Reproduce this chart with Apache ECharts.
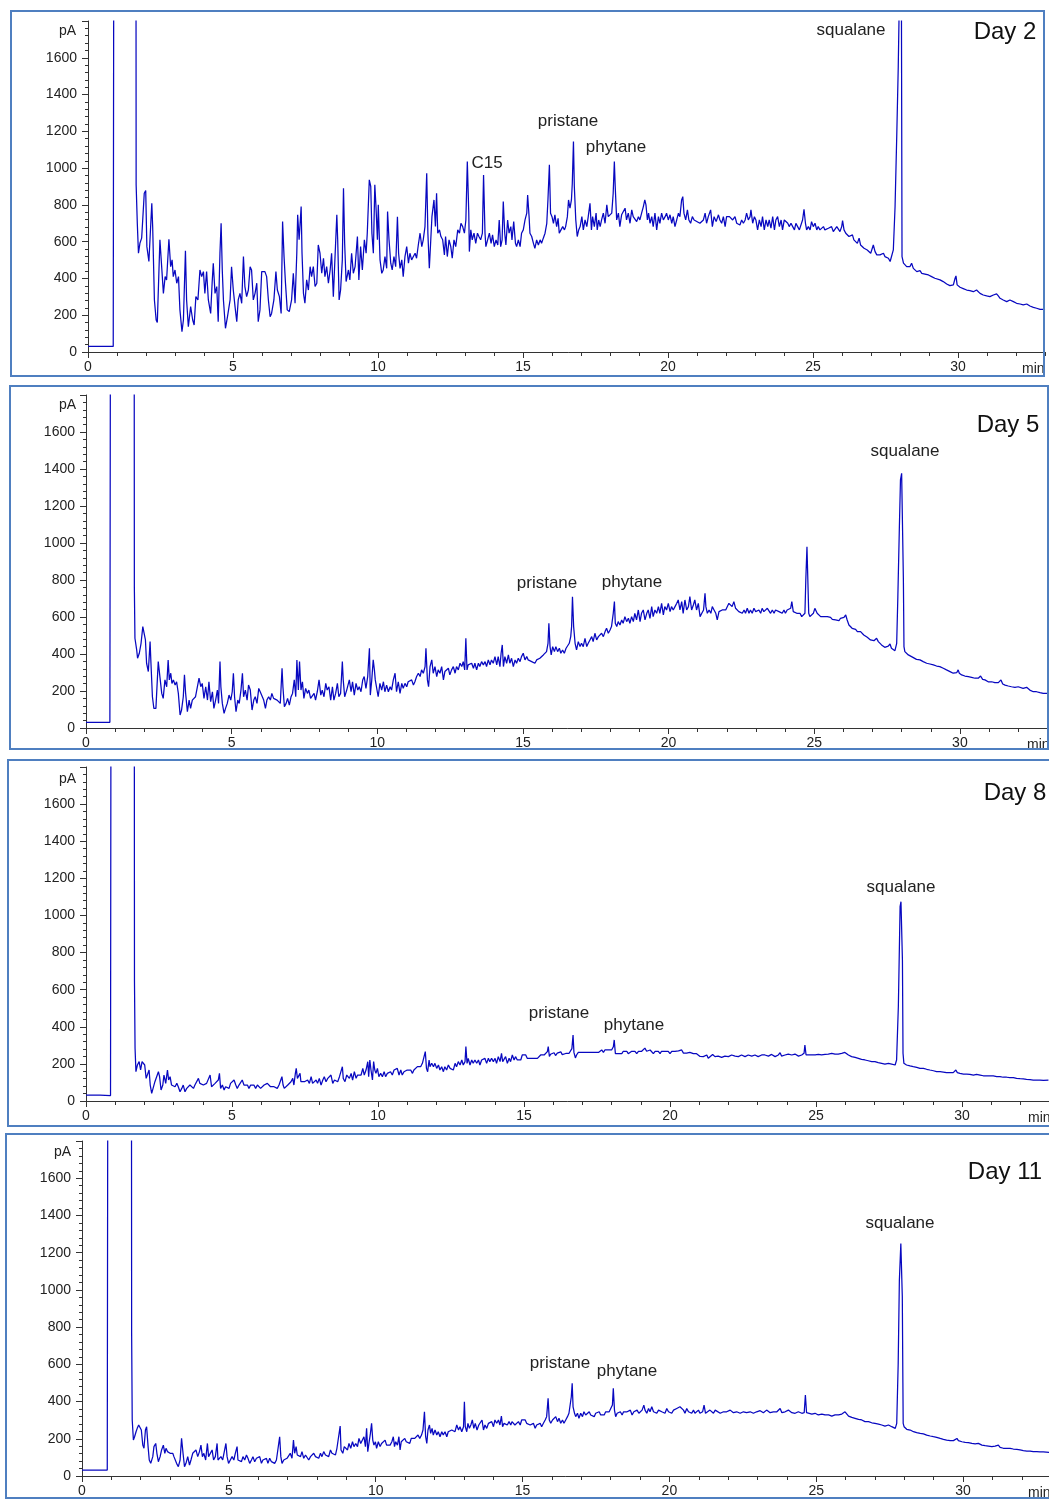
<!DOCTYPE html>
<html><head><meta charset="utf-8">
<script src="https://cdn.jsdelivr.net/npm/echarts@6/dist/echarts.min.js"></script>
<style>html,body{margin:0;padding:0;background:#fff}#c{width:1049px;height:1499px}</style>
</head><body><div id="c"></div>
<script>
// ---------- data: [retention time (min), signal (pA)] ----------
const day2 = [[0,30],[0.87,30],[0.92,6000],[1.64,6000],[1.66,909],[1.70,700],[1.74,537],[1.79,591],[1.85,619],[1.94,863],[1.99,878],[2.03,573],[2.10,492],[2.16,483],[2.20,809],[2.23,682],[2.29,283],[2.35,174],[2.39,160],[2.48,610],[2.54,600],[2.60,319],[2.66,410],[2.71,392],[2.79,613],[2.85,464],[2.90,501],[2.94,410],[3.00,446],[3.06,374],[3.12,410],[3.17,229],[3.24,111],[3.29,174],[3.36,551],[3.40,283],[3.46,138],[3.54,247],[3.61,174],[3.66,147],[3.72,301],[3.79,283],[3.86,446],[3.92,410],[3.98,437],[4.03,319],[4.09,437],[4.15,283],[4.23,210],[4.28,374],[4.32,483],[4.38,319],[4.44,356],[4.49,165],[4.55,537],[4.59,700],[4.63,446],[4.67,283],[4.74,129],[4.81,192],[4.90,283],[4.95,464],[5.01,337],[5.07,247],[5.13,165],[5.18,283],[5.24,319],[5.30,265],[5.36,519],[5.41,356],[5.47,301],[5.53,337],[5.59,464],[5.64,446],[5.70,283],[5.76,319],[5.82,374],[5.87,165],[5.93,229],[5.99,437],[6.05,428],[6.10,437],[6.16,410],[6.22,283],[6.28,192],[6.33,210],[6.41,283],[6.48,437],[6.53,337],[6.60,301],[6.66,210],[6.71,709],[6.76,519],[6.81,374],[6.87,229],[6.94,220],[7.02,283],[7.08,428],[7.14,265],[7.20,537],[7.23,746],[7.28,610],[7.35,791],[7.38,537],[7.43,319],[7.48,265],[7.54,392],[7.60,337],[7.66,464],[7.71,410],[7.77,464],[7.83,356],[7.89,374],[7.94,582],[8.00,537],[8.06,428],[8.12,510],[8.17,410],[8.23,464],[8.29,374],[8.35,446],[8.40,537],[8.46,301],[8.52,292],[8.58,746],[8.61,610],[8.66,283],[8.71,337],[8.77,501],[8.81,891],[8.85,591],[8.90,383],[8.98,446],
[9.03,392],[9.09,537],[9.15,428],[9.21,464],[9.29,628],[9.34,392],[9.40,573],[9.46,446],[9.53,610],[9.59,537],[9.63,646],[9.70,936],[9.75,900],[9.79,646],[9.84,537],[9.89,909],[9.93,791],[9.98,610],[10.01,800],[10.07,501],[10.13,428],[10.18,446],[10.24,519],[10.30,455],[10.33,764],[10.38,610],[10.44,483],[10.49,446],[10.55,519],[10.61,464],[10.67,736],[10.71,537],[10.76,455],[10.82,501],[10.87,410],[10.93,519],[10.99,573],[11.05,483],[11.10,537],[11.16,501],[11.22,519],[11.28,537],[11.33,510],[11.39,582],[11.45,646],[11.51,573],[11.56,610],[11.62,682],[11.68,972],[11.72,646],[11.77,455],[11.82,610],[11.86,736],[11.93,827],[11.98,682],[12.02,863],[12.06,646],[12.12,664],[12.17,628],[12.23,610],[12.29,528],[12.33,628],[12.39,519],[12.45,610],[12.51,573],[12.56,510],[12.62,610],[12.68,573],[12.75,664],[12.81,646],[12.86,700],[12.92,682],[12.98,646],[13.03,718],[13.08,1036],[13.13,755],[13.15,546],[13.20,664],[13.25,610],[13.31,646],[13.37,591],[13.43,646],[13.48,628],[13.54,610],[13.60,646],[13.64,963],[13.69,646],[13.72,573],[13.78,610],[13.84,646],[13.90,591],[13.95,637],[14.01,573],[14.07,610],[14.13,582],[14.18,718],[14.23,573],[14.28,610],[14.32,818],[14.37,646],[14.41,582],[14.47,718],[14.52,646],[14.58,682],[14.62,610],[14.68,709],[14.74,591],[14.78,573],[14.84,610],[14.90,573],[14.95,646],[15.01,664],[15.07,718],[15.13,755],[15.16,854],[15.21,736],[15.24,646],[15.30,628],[15.36,591],[15.41,564],[15.47,610],[15.53,582],[15.59,610],[15.64,591],[15.70,619],[15.76,646],[15.82,700],[15.86,827],[15.91,1018],[15.95,755],[16.00,736],[16.05,700],[16.10,746],[16.16,682],[16.21,727],[16.25,646],[16.31,664],[16.37,682],[16.43,664],[16.47,682],[16.53,736],[16.57,827],[16.62,782],[16.67,827],[16.70,918],[16.74,1145],[16.77,900],[16.82,718],[16.87,628],[16.92,664],[16.97,682],[17.03,736],[17.08,664],[17.14,718],[17.20,682],[17.25,736],[17.31,809],[17.36,664],[17.40,736],[17.46,682],[17.52,755],[17.56,664],[17.61,718],[17.66,682],[17.71,718],[17.77,755],[17.83,700],[17.89,800],[17.94,736],[18.00,727],[18.06,755],[18.11,863],[18.15,1036],[18.18,900],[18.23,718],[18.29,755],[18.34,682],[18.40,746],[18.46,736],[18.52,782],[18.57,718],[18.63,755],[18.69,700],[18.75,773],[18.80,736],[18.86,746],[18.92,709],[18.98,736],[19.03,718],[19.09,755],[19.15,791],[19.20,827],[19.24,800],[19.29,718],[19.33,755],[19.38,700],[19.44,736],[19.49,682],[19.55,755],[19.61,664],[19.67,736],[19.72,700],[19.78,755],[19.84,718],[19.90,736],[19.95,755],[20.01,718],[20.07,746],[20.13,700],[20.18,736],[20.24,682],[20.30,718],[20.36,755],[20.41,736],[20.47,827],[20.51,845],[20.55,755],[20.61,718],[20.67,773],[20.72,718],[20.78,700],[20.84,736],[20.90,718],[20.96,709],
[21.1,700],[21.22,718],[21.28,755],[21.33,700],[21.39,736],[21.47,773],[21.53,682],[21.59,736],[21.66,709],[21.74,746],[21.79,718],[21.85,700],[21.91,736],[21.97,682],[22.02,736],[22.12,736],[22.17,727],[22.23,718],[22.31,736],[22.37,700],[22.43,709],[22.48,691],[22.54,718],[22.6,700],[22.66,718],[22.71,755],[22.77,718],[22.83,736],[22.86,773],[22.92,700],[22.98,736],[23.03,718],[23.09,664],[23.15,718],[23.21,682],[23.26,736],[23.32,664],[23.38,718],[23.44,682],[23.49,718],[23.55,673],[23.61,736],[23.67,664],[23.72,718],[23.78,736],[23.84,682],[23.9,718],[23.95,664],[24.01,718],[24.07,709],[24.13,700],[24.18,682],[24.24,700],[24.3,682],[24.36,664],[24.41,700],[24.47,682],[24.53,664],[24.59,673],[24.64,718],[24.69,776],[24.74,700],[24.78,664],[24.84,682],[24.9,664],[24.95,709],[25.01,682],[25.07,700],[25.13,664],[25.18,682],[25.24,664],[25.3,673],[25.36,682],[25.41,664],[25.47,655],[25.53,673],[25.59,664],[25.64,682],[25.7,655],[25.76,664],[25.82,682],[25.87,673],[25.93,655],[25.99,682],[26.02,715],[26.07,664],[26.13,646],[26.18,637],[26.24,628],[26.3,619],[26.36,637],[26.41,610],[26.47,600],[26.53,591],[26.59,619],[26.64,582],[26.7,573],[26.76,564],[26.82,564],[26.87,555],[26.93,546],[26.99,537],[27.05,546],[27.08,582],[27.14,546],[27.2,528],[27.25,537],[27.31,528],[27.37,519],[27.43,537],[27.48,519],[27.54,510],[27.6,510],[27.66,492],[27.71,483],[27.77,555],[27.83,791],[27.89,1190],[27.94,1553],[27.97,1850],[28.05,1850],[28.07,519],[28.12,483],[28.17,474],[28.23,464],[28.29,455],[28.34,464],[28.4,483],[28.46,455],[28.52,446],[28.58,437],[28.63,437],[28.69,442],[28.75,428],[28.8,432],[28.86,424],[28.92,428],[28.98,419],[29.03,414],[29.09,410],[29.15,406],[29.2,401],[29.26,396],[29.38,392],[29.49,383],[29.61,370],[29.67,365],[29.72,361],[29.78,365],[29.84,365],[29.9,401],[29.93,414],[29.97,365],[30.01,356],[30.07,352],[30.18,345],[30.3,337],[30.41,334],[30.53,328],[30.64,337],[30.7,328],[30.76,319],[30.87,310],[30.99,305],[31.1,301],[31.22,310],[31.33,316],[31.39,305],[31.45,292],[31.56,283],[31.68,274],[31.79,283],[31.85,287],[31.91,274],[32.02,265],[32.14,261],[32.25,256],[32.37,261],[32.48,250],[32.6,243],[32.71,238],[32.83,232],[32.94,232],[33,230]];

const day5 = [[0,31],[0.82,31],[0.87,6000],[1.64,6000],[1.66,760],[1.68,485],[1.74,422],[1.77,377],[1.83,404],[1.89,458],[1.95,548],[1.99,557],[2.04,476],[2.08,350],[2.14,305],[2.2,467],[2.23,350],[2.28,169],[2.33,106],[2.4,106],[2.48,359],[2.54,350],[2.6,187],[2.65,160],[2.71,260],[2.77,223],[2.82,368],[2.86,260],[2.91,296],[2.95,241],[3.0,260],[3.06,232],[3.11,250],[3.17,187],[3.23,70],[3.28,97],[3.34,169],[3.38,287],[3.42,187],[3.48,88],[3.54,151],[3.59,106],[3.65,151],[3.71,142],[3.76,169],[3.82,169],[3.88,269],[3.94,223],[3.99,241],[4.05,160],[4.11,223],[4.17,151],[4.22,250],[4.28,142],[4.34,196],[4.39,106],[4.45,151],[4.51,205],[4.55,133],[4.6,359],[4.63,223],[4.68,133],[4.74,79],[4.79,106],[4.85,133],[4.91,178],[4.97,151],[5.02,196],[5.06,296],[5.1,169],[5.15,88],[5.21,151],[5.26,133],[5.32,205],[5.37,296],[5.41,169],[5.47,205],[5.53,151],[5.58,232],[5.64,205],[5.7,97],[5.76,151],[5.81,169],[5.87,133],[5.93,214],[5.98,196],[6.04,187],[6.1,151],[6.16,106],[6.21,151],[6.27,169],[6.33,151],[6.38,187],[6.44,160],[6.5,151],[6.56,151],[6.61,160],[6.67,133],[6.73,323],[6.76,223],[6.81,115],[6.87,133],[6.92,160],[6.98,124],[7.04,169],[7.09,187],[7.15,260],[7.2,169],[7.24,368],[7.29,205],[7.33,359],[7.38,205],[7.43,250],[7.48,160],[7.54,214],[7.6,187],[7.65,205],[7.71,160],[7.77,169],[7.83,187],[7.88,151],[7.94,196],[8.0,260],[8.06,178],[8.11,205],[8.17,169],[8.23,241],[8.28,205],[8.34,223],[8.4,151],[8.46,223],[8.51,151],[8.57,187],[8.63,241],[8.68,169],[8.74,187],[8.8,359],[8.83,260],[8.88,169],[8.95,205],[9.0,214],
[9.04,260],[9.1,196],[9.15,250],[9.21,178],[9.27,241],[9.33,205],[9.38,223],[9.44,196],[9.5,260],[9.55,278],[9.61,214],[9.67,278],[9.73,431],[9.76,178],[9.81,260],[9.86,368],[9.9,314],[9.93,260],[9.98,250],[10.03,169],[10.09,241],[10.15,205],[10.21,250],[10.26,196],[10.32,232],[10.38,196],[10.44,223],[10.49,205],[10.55,260],[10.61,296],[10.66,196],[10.72,250],[10.78,187],[10.84,241],[10.89,214],[10.95,241],[11.01,223],[11.06,250],[11.12,241],[11.18,260],[11.24,232],[11.29,250],[11.35,278],[11.41,296],[11.47,278],[11.52,314],[11.58,296],[11.64,332],[11.67,431],[11.72,260],[11.76,223],[11.81,332],[11.87,368],[11.92,296],[11.98,332],[12.04,278],[12.09,314],[12.15,296],[12.21,332],[12.27,260],[12.32,305],[12.38,296],[12.44,323],[12.49,287],[12.55,314],[12.61,332],[12.67,296],[12.72,332],[12.78,314],[12.84,350],[12.9,332],[12.95,359],[13.0,314],[13.04,485],[13.08,314],[13.12,341],[13.18,332],[13.24,350],[13.3,323],[13.35,350],[13.41,314],[13.47,350],[13.52,332],[13.58,359],[13.64,341],[13.7,359],[13.75,332],[13.81,368],[13.87,341],[13.92,368],[13.98,350],[14.04,386],[14.1,341],[14.15,386],[14.21,332],[14.25,404],[14.29,449],[14.33,332],[14.38,386],[14.44,350],[14.5,395],[14.55,350],[14.61,377],[14.67,332],[14.73,368],[14.78,350],[14.84,377],[14.9,359],[14.95,386],[15.01,404],[15.07,368],[15.13,386],[15.18,368],[15.24,377],[15.3,359],[15.36,368],[15.41,350],[15.47,368],[15.53,359],[15.58,377],[15.64,368],[15.7,395],[15.76,386],[15.81,413],[15.86,458],[15.89,566],[15.93,440],[15.97,395],[16.02,440],[16.08,413],[16.13,440],[16.19,413],[16.25,431],[16.3,404],[16.36,422],[16.42,404],[16.48,431],[16.53,440],[16.59,458],[16.64,494],[16.67,548],[16.7,710],[16.74,548],[16.79,458],[16.84,422],[16.9,467],[16.96,440],[17.01,458],[17.07,440],[17.13,485],[17.19,440],[17.24,458],[17.3,476],[17.36,494],[17.41,467],[17.47,512],[17.53,476],[17.59,494],[17.64,485],[17.7,512],[17.76,494],[17.82,521],[17.87,539],[17.93,512],[17.99,530],[18.04,548],[18.1,620],[18.14,683],[18.17,566],[18.22,548],[18.27,575],[18.33,557],[18.39,584],[18.44,566],[18.5,602],[18.56,575],[18.62,593],[18.67,566],[18.73,602],[18.79,575],[18.84,620],[18.9,584],[18.96,638],[19.02,575],[19.07,620],[19.13,638],[19.19,584],[19.25,620],[19.3,638],[19.36,593],[19.42,656],[19.47,602],[19.53,638],[19.59,620],[19.65,656],[19.7,620],[19.76,674],[19.82,611],[19.87,656],[19.93,638],[19.99,674],[20.05,629],[20.1,656],[20.16,638],[20.22,656],[20.28,674],[20.33,692],[20.39,638],[20.45,683],[20.5,620],[20.56,692],[20.62,638],[20.68,656],[20.73,710],[20.79,638],[20.85,665],[20.9,692],[20.96,638],[21.02,674],
[21.08,602],[21.14,620],[21.2,638],[21.25,728],[21.28,656],[21.33,620],[21.39,638],[21.45,620],[21.5,656],[21.56,638],[21.62,620],[21.67,584],[21.73,629],[21.79,620],[21.84,638],[21.9,629],[21.96,638],[22.01,647],[22.07,674],[22.13,683],[22.18,656],[22.24,683],[22.3,647],[22.36,638],[22.41,629],[22.47,638],[22.53,620],[22.59,638],[22.64,620],[22.7,647],[22.76,620],[22.81,638],[22.87,620],[22.93,647],[22.99,629],[23.04,620],[23.1,638],[23.16,620],[23.21,647],[23.27,629],[23.33,620],[23.39,647],[23.44,638],[23.5,620],[23.56,638],[23.62,620],[23.67,638],[23.73,647],[23.79,629],[23.84,638],[23.9,620],[23.96,638],[24.01,620],[24.07,638],[24.13,629],[24.19,647],[24.23,683],[24.28,629],[24.34,620],[24.4,620],[24.45,611],[24.51,620],[24.57,602],[24.62,593],[24.68,620],[24.71,800],[24.75,980],[24.78,800],[24.81,620],[24.85,602],[24.91,611],[24.97,620],[25.02,647],[25.06,656],[25.1,620],[25.16,611],[25.22,602],[25.28,611],[25.33,602],[25.39,598],[25.45,602],[25.5,593],[25.56,598],[25.62,587],[25.68,593],[25.73,584],[25.79,587],[25.85,580],[25.9,593],[25.96,584],[26.02,598],[26.08,611],[26.13,584],[26.19,557],[26.25,548],[26.3,539],[26.36,530],[26.42,533],[26.48,521],[26.53,512],[26.59,521],[26.65,512],[26.7,503],[26.76,494],[26.82,490],[26.88,483],[26.93,476],[26.99,476],[27.05,472],[27.11,479],[27.14,485],[27.2,467],[27.25,458],[27.31,449],[27.37,440],[27.42,436],[27.48,440],[27.54,443],[27.6,454],[27.65,431],[27.71,422],[27.77,418],[27.83,458],[27.87,710],[27.92,1070],[27.96,1341],[28.0,1377],[28.03,1368],[28.06,800],[28.08,440],[28.11,413],[28.17,404],[28.23,395],[28.28,389],[28.34,386],[28.4,382],[28.51,371],[28.63,368],[28.74,359],[28.86,350],[28.97,346],[29.09,341],[29.2,335],[29.31,332],[29.43,323],[29.54,314],[29.66,305],[29.77,296],[29.89,299],[29.94,314],[29.98,296],[30.06,287],[30.17,281],[30.29,278],[30.4,274],[30.52,269],[30.63,269],[30.71,281],[30.78,263],[30.86,260],[30.97,250],[31.09,250],[31.2,245],[31.32,245],[31.41,260],[31.47,238],[31.55,232],[31.66,227],[31.77,223],[31.89,220],[32.0,223],[32.06,214],[32.17,214],[32.29,220],[32.4,205],[32.52,196],[32.63,196],[32.75,191],[32.86,187],[33.0,187]];

const day8 = [[0,32],[0.48,32],[0.5,29],[0.84,29],[0.88,6000],[1.64,6000],[1.66,650],[1.68,284],[1.71,158],[1.76,194],[1.82,212],[1.87,167],[1.92,212],[1.96,221],[2.01,194],[2.06,122],[2.1,113],[2.16,167],[2.2,86],[2.25,41],[2.31,50],[2.36,104],[2.42,95],[2.48,158],[2.52,131],[2.57,59],[2.63,86],[2.67,140],[2.73,95],[2.79,167],[2.83,113],[2.88,131],[2.93,86],[2.99,95],[3.05,77],[3.11,95],[3.16,77],[3.22,50],[3.28,68],[3.33,86],[3.39,50],[3.45,68],[3.51,59],[3.56,86],[3.62,95],[3.68,68],[3.73,86],[3.79,77],[3.85,122],[3.9,95],[3.96,104],[4.02,86],[4.08,77],[4.13,95],[4.19,86],[4.25,140],[4.3,77],[4.36,68],[4.42,95],[4.48,86],[4.53,113],[4.57,149],[4.61,68],[4.67,86],[4.73,59],[4.78,77],[4.84,86],[4.9,68],[4.95,95],[5.01,86],[5.07,113],[5.13,86],[5.18,68],[5.24,86],[5.3,77],[5.35,113],[5.41,86],[5.47,95],[5.53,86],[5.58,68],[5.64,86],[5.7,77],[5.75,86],[5.81,68],[5.87,86],[5.93,77],[5.98,68],[6.04,68],[6.1,86],[6.15,77],[6.21,95],[6.27,86],[6.32,77],[6.38,86],[6.44,77],[6.5,86],[6.55,68],[6.61,86],[6.67,77],[6.71,131],[6.75,86],[6.79,68],[6.85,77],[6.91,86],[6.96,95],[7.02,104],[7.08,122],[7.12,86],[7.17,149],[7.2,176],[7.24,122],[7.28,131],[7.33,149],[7.36,104],[7.42,95],[7.48,104],[7.53,95],[7.59,113],[7.65,95],[7.71,131],[7.76,95],[7.82,104],[7.88,113],[7.93,95],[7.99,122],[8.05,86],[8.11,113],[8.16,131],[8.22,104],[8.28,122],[8.33,113],[8.39,140],[8.45,95],[8.51,113],[8.56,122],[8.62,104],[8.68,131],[8.73,140],[8.78,185],[8.81,122],[8.87,104],[8.93,140],[8.98,131],
[9.02,122],[9.08,149],[9.13,113],[9.19,158],[9.25,122],[9.3,140],[9.36,149],[9.42,140],[9.48,176],[9.53,140],[9.59,167],[9.65,212],[9.68,131],[9.72,221],[9.76,167],[9.81,113],[9.85,212],[9.89,167],[9.93,149],[9.98,176],[10.03,131],[10.09,149],[10.15,131],[10.21,158],[10.26,131],[10.32,149],[10.38,140],[10.43,158],[10.49,140],[10.55,167],[10.61,158],[10.66,176],[10.72,140],[10.78,167],[10.83,140],[10.89,158],[10.95,149],[11.0,167],[11.06,158],[11.12,167],[11.18,149],[11.23,167],[11.29,176],[11.35,185],[11.4,194],[11.46,185],[11.52,203],[11.58,212],[11.62,266],[11.66,176],[11.7,158],[11.75,221],[11.78,185],[11.84,203],[11.9,185],[11.95,203],[12.01,176],[12.07,194],[12.12,167],[12.18,185],[12.24,158],[12.29,185],[12.35,167],[12.41,194],[12.47,176],[12.52,185],[12.58,167],[12.64,203],[12.69,185],[12.75,212],[12.81,194],[12.87,221],[12.92,194],[12.98,212],[13.01,293],[13.05,203],[13.09,230],[13.15,194],[13.21,221],[13.26,203],[13.32,221],[13.38,203],[13.44,221],[13.49,194],[13.55,221],[13.61,212],[13.66,230],[13.72,203],[13.78,230],[13.83,212],[13.89,230],[13.95,212],[14.01,230],[14.06,203],[14.12,239],[14.18,212],[14.23,257],[14.27,212],[14.31,221],[14.37,239],[14.43,203],[14.49,230],[14.54,212],[14.6,248],[14.66,221],[14.71,239],[14.77,221],[14.83,230],[14.89,221],[14.94,248],[15.0,239],[15.06,248],[15.11,230],[15.17,239],[15.23,230],[15.29,239],[15.34,230],[15.4,239],[15.46,230],[15.51,239],[15.57,248],[15.63,239],[15.69,248],[15.74,257],[15.8,266],[15.83,293],[15.87,240],[15.91,252],[15.97,245],[16.03,260],[16.08,245],[16.14,258],[16.2,250],[16.26,265],[16.31,250],[16.37,258],[16.43,256],[16.48,265],[16.54,256],[16.6,265],[16.64,282],[16.68,356],[16.71,262],[16.76,232],[16.8,248],[16.86,262],[16.92,255],[16.97,262],[17.03,255],[17.09,262],[17.15,255],[17.2,262],[17.26,268],[17.32,262],[17.37,268],[17.43,262],[17.49,268],[17.55,262],[17.6,268],[17.66,275],[17.72,262],[17.77,275],[17.83,268],[17.89,275],[17.95,268],[18.0,275],[18.06,292],[18.09,329],[18.13,255],[18.17,262],[18.23,255],[18.29,262],[18.35,255],[18.4,268],[18.46,262],[18.52,268],[18.57,255],[18.63,262],[18.69,268],[18.74,262],[18.8,268],[18.86,255],[18.92,268],[18.97,262],[19.03,268],[19.09,275],[19.14,285],[19.2,268],[19.26,262],[19.32,275],[19.37,268],[19.43,255],[19.49,268],[19.54,262],[19.6,268],[19.66,255],[19.71,268],[19.77,262],[19.83,268],[19.89,262],[19.94,268],[20.0,255],[20.06,268],[20.11,262],[20.17,268],[20.23,262],[20.29,270],[20.34,264],[20.4,275],[20.46,258],[20.51,268],[20.57,258],[20.63,268],[20.68,262],[20.74,265],[20.8,255],[20.86,262],[20.91,255],[20.97,258],
[21.03,240],[21.14,239],[21.26,248],[21.31,230],[21.37,239],[21.46,251],[21.54,239],[21.65,242],[21.77,235],[21.88,242],[22.0,239],[22.11,248],[22.23,242],[22.34,239],[22.45,248],[22.57,239],[22.68,248],[22.8,242],[22.91,248],[23.02,239],[23.14,248],[23.25,248],[23.37,242],[23.48,251],[23.6,239],[23.71,248],[23.77,260],[23.82,242],[23.94,248],[24.05,253],[24.17,248],[24.28,253],[24.4,242],[24.51,248],[24.59,257],[24.62,302],[24.66,248],[24.74,248],[24.85,248],[24.97,248],[25.08,251],[25.19,248],[25.31,251],[25.42,253],[25.54,257],[25.65,253],[25.76,253],[25.88,257],[25.99,262],[26.05,257],[26.11,248],[26.22,239],[26.34,235],[26.45,230],[26.56,224],[26.68,221],[26.79,217],[26.91,212],[27.02,212],[27.13,207],[27.25,203],[27.36,199],[27.48,203],[27.53,212],[27.59,199],[27.71,194],[27.76,221],[27.82,508],[27.88,1047],[27.91,1074],[27.94,1065],[27.96,760],[27.98,257],[28.01,203],[28.1,194],[28.22,189],[28.33,185],[28.45,181],[28.56,176],[28.68,176],[28.79,171],[28.9,167],[29.02,163],[29.13,158],[29.25,158],[29.36,156],[29.47,153],[29.59,153],[29.7,153],[29.79,167],[29.84,153],[29.93,149],[30.05,145],[30.16,145],[30.27,144],[30.39,140],[30.5,144],[30.62,140],[30.73,136],[30.84,135],[30.96,135],[31.07,135],[31.19,131],[31.24,140],[31.3,131],[31.41,128],[31.53,128],[31.64,126],[31.76,126],[31.87,122],[31.99,120],[32.1,119],[32.21,117],[32.33,115],[32.44,113],[32.56,113],[32.67,113],[32.79,111],[32.96,113]];

const day11 = [[0,32],[0.86,32],[0.91,6000],[1.67,6000],[1.69,770],[1.71,301],[1.75,193],[1.79,211],[1.84,238],[1.88,256],[1.93,274],[1.98,279],[2.02,247],[2.07,166],[2.11,149],[2.16,247],[2.2,265],[2.25,158],[2.29,86],[2.34,68],[2.41,104],[2.45,158],[2.51,175],[2.55,122],[2.6,77],[2.66,104],[2.71,140],[2.77,166],[2.82,122],[2.86,149],[2.91,131],[2.95,140],[3.0,122],[3.04,131],[3.09,122],[3.13,104],[3.18,113],[3.22,68],[3.28,50],[3.34,86],[3.39,202],[3.44,122],[3.49,50],[3.54,68],[3.6,104],[3.66,59],[3.71,86],[3.77,122],[3.83,113],[3.88,140],[3.94,104],[4.0,131],[4.05,166],[4.1,104],[4.15,122],[4.21,86],[4.27,175],[4.31,104],[4.37,95],[4.43,140],[4.48,86],[4.54,104],[4.6,175],[4.63,86],[4.68,77],[4.73,104],[4.79,86],[4.85,95],[4.9,175],[4.94,104],[4.99,68],[5.05,86],[5.11,104],[5.17,86],[5.22,122],[5.28,158],[5.31,86],[5.37,95],[5.43,77],[5.48,104],[5.54,86],[5.6,113],[5.65,95],[5.71,68],[5.77,86],[5.82,104],[5.88,77],[5.94,95],[5.99,86],[6.05,104],[6.11,68],[6.16,86],[6.22,77],[6.28,95],[6.33,68],[6.39,95],[6.45,77],[6.5,86],[6.56,68],[6.62,86],[6.67,77],[6.73,211],[6.77,104],[6.81,68],[6.87,86],[6.92,77],[6.98,95],[7.04,86],[7.09,122],[7.15,95],[7.2,193],[7.24,122],[7.29,158],[7.33,113],[7.38,122],[7.44,104],[7.49,131],[7.55,95],[7.61,113],[7.66,104],[7.72,86],[7.78,104],[7.83,95],[7.89,122],[7.95,104],[8.0,113],[8.06,95],[8.12,122],[8.17,104],[8.23,131],[8.29,113],[8.34,122],[8.4,104],[8.46,140],[8.51,122],[8.57,131],[8.63,113],[8.68,149],[8.74,140],[8.79,268],[8.82,140],[8.88,122],[8.93,158],[8.99,149],
[9.04,140],[9.09,175],[9.15,149],[9.21,184],[9.26,158],[9.32,175],[9.38,158],[9.43,202],[9.49,175],[9.55,184],[9.6,211],[9.65,158],[9.69,256],[9.73,131],[9.77,175],[9.82,229],[9.86,283],[9.9,193],[9.94,166],[9.99,184],[10.03,149],[10.09,184],[10.15,158],[10.2,175],[10.26,166],[10.32,193],[10.37,166],[10.43,175],[10.49,166],[10.55,184],[10.6,211],[10.64,158],[10.68,184],[10.74,166],[10.79,211],[10.83,140],[10.87,184],[10.93,175],[10.99,202],[11.04,184],[11.1,193],[11.16,175],[11.21,202],[11.27,193],[11.33,202],[11.38,193],[11.44,220],[11.5,202],[11.56,220],[11.61,247],[11.66,345],[11.7,211],[11.74,175],[11.78,247],[11.83,274],[11.87,229],[11.92,256],[11.96,220],[12.02,247],[12.08,220],[12.13,238],[12.19,211],[12.25,238],[12.3,220],[12.36,238],[12.42,211],[12.47,238],[12.53,229],[12.59,247],[12.64,256],[12.7,238],[12.76,274],[12.82,247],[12.87,265],[12.93,238],[12.99,265],[13.02,399],[13.05,265],[13.1,238],[13.14,283],[13.19,256],[13.24,274],[13.29,301],[13.34,256],[13.39,283],[13.45,247],[13.51,274],[13.56,265],[13.62,301],[13.67,247],[13.72,274],[13.78,256],[13.84,283],[13.89,274],[13.95,292],[14.01,265],[14.06,301],[14.12,283],[14.18,301],[14.23,274],[14.28,322],[14.32,265],[14.37,283],[14.43,292],[14.48,274],[14.54,292],[14.6,274],[14.64,292],[14.69,283],[14.74,274],[14.8,283],[14.86,292],[14.92,274],[14.97,301],[15.03,292],[15.09,301],[15.14,283],[15.2,292],[15.26,274],[15.31,265],[15.37,283],[15.43,256],[15.48,274],[15.54,265],[15.6,283],[15.65,265],[15.71,283],[15.77,301],[15.82,319],[15.87,417],[15.91,301],[15.96,283],[16.02,301],[16.07,292],[16.13,319],[16.19,292],[16.24,310],[16.3,283],[16.36,301],[16.41,283],[16.47,301],[16.53,319],[16.58,337],[16.63,345],[16.66,426],[16.69,498],[16.72,372],[16.77,337],[16.81,319],[16.87,337],[16.92,310],[16.98,337],[17.04,319],[17.09,345],[17.15,328],[17.21,319],[17.27,345],[17.32,328],[17.38,337],[17.44,319],[17.49,337],[17.55,328],[17.61,345],[17.66,328],[17.72,337],[17.78,328],[17.83,345],[17.89,337],[17.95,345],[18.0,354],[18.06,381],[18.09,471],[18.13,354],[18.17,319],[18.22,337],[18.27,328],[18.33,345],[18.39,328],[18.44,345],[18.5,337],[18.56,345],[18.62,337],[18.67,354],[18.73,328],[18.79,345],[18.84,337],[18.9,354],[18.96,337],[19.01,345],[19.07,354],[19.13,381],[19.17,354],[19.23,337],[19.29,363],[19.34,345],[19.4,372],[19.46,345],[19.51,354],[19.57,337],[19.63,354],[19.68,363],[19.74,345],[19.8,354],[19.85,337],[19.91,363],[19.97,345],[20.02,354],[20.08,337],[20.14,354],[20.19,345],[20.25,363],[20.31,354],[20.36,372],[20.42,381],[20.48,354],[20.53,337],[20.59,363],[20.65,345],[20.7,354],[20.76,337],[20.82,354],[20.87,337],[20.93,345],[20.99,354],
[21.04,337],[21.13,345],[21.18,381],[21.23,337],[21.29,345],[21.38,354],[21.44,363],[21.5,337],[21.56,354],[21.61,345],[21.73,337],[21.84,345],[21.95,345],[22.07,354],[22.12,358],[22.18,340],[22.29,345],[22.41,337],[22.52,345],[22.63,340],[22.75,345],[22.86,337],[22.97,345],[23.09,351],[23.2,340],[23.31,354],[23.43,340],[23.54,345],[23.66,345],[23.77,363],[23.83,340],[23.94,345],[24.05,354],[24.11,363],[24.17,340],[24.28,337],[24.39,345],[24.51,337],[24.59,340],[24.63,435],[24.67,340],[24.73,337],[24.85,333],[24.96,337],[25.07,328],[25.19,333],[25.3,328],[25.42,328],[25.53,322],[25.64,328],[25.76,328],[25.87,333],[25.98,345],[26.04,337],[26.1,322],[26.21,315],[26.32,310],[26.44,304],[26.55,301],[26.66,292],[26.78,292],[26.89,286],[27.0,283],[27.12,279],[27.23,274],[27.34,268],[27.46,274],[27.52,283],[27.57,265],[27.69,256],[27.74,283],[27.79,605],[27.83,1052],[27.88,1249],[27.91,1258],[27.93,963],[27.95,498],[27.96,283],[27.99,265],[28.08,251],[28.2,247],[28.31,238],[28.42,233],[28.54,229],[28.65,226],[28.76,220],[28.88,215],[28.99,211],[29.1,208],[29.22,202],[29.33,197],[29.44,193],[29.56,190],[29.67,190],[29.79,202],[29.84,190],[29.96,184],[30.07,181],[30.18,179],[30.3,175],[30.41,172],[30.52,175],[30.58,179],[30.64,166],[30.75,163],[30.86,161],[30.98,158],[31.09,161],[31.2,166],[31.26,154],[31.37,149],[31.49,149],[31.6,149],[31.71,145],[31.83,143],[31.94,140],[32.05,136],[32.17,134],[32.28,134],[32.39,131],[32.51,131],[32.62,129],[32.73,129],[32.93,127]];

const dayNames = ['Day 2', 'Day 5', 'Day 8', 'Day 11'];
const traces = [day2, day5, day8, day11];
const timeTicks = {min: 0, max: 35, step: 5};
const signalTicks = {min: 0, max: 1800, step: 200};

// ---------- layout (pixel positions only) ----------
const FONT = '"Liberation Sans", Arial, Helvetica, sans-serif';
const panels = [
  {left: 88, top: 21, height: 331, pxPerMin: 29.0,  box: [11, 11, 1033, 365],  pA: [76, 31],   min: [1022, 369],  day: [1005, 32],
   notes: [['squalane', 851, 30], ['pristane', 568, 121], ['phytane', 616, 147], ['C15', 487, 163]]},
  {left: 86, top: 395, height: 333, pxPerMin: 29.13, box: [10, 386, 1038, 363], pA: [76, 405],  min: [1027, 745],  day: [1008, 425],
   notes: [['squalane', 905, 451], ['pristane', 547, 583], ['phytane', 632, 582]]},
  {left: 86, top: 767, height: 334, pxPerMin: 29.2,  box: [8, 760, 1060, 366],  pA: [76, 779],  min: [1028, 1118], day: [1015, 793],
   notes: [['squalane', 901, 887], ['pristane', 559, 1013], ['phytane', 634, 1025]]},
  {left: 82, top: 1141, height: 335, pxPerMin: 29.37, box: [6, 1134, 1060, 364], pA: [71, 1152], min: [1028, 1493], day: [1005, 1172],
   notes: [['squalane', 900, 1223], ['pristane', 560, 1363], ['phytane', 627, 1371]]}
];

const AXIS = '#333';
const TRACE = '#0808c0';
const BORDER = '#4f7fc0';

const grids = panels.map(p => ({
  left: p.left, top: p.top, height: p.height,
  width: p.pxPerMin * (timeTicks.max - timeTicks.min),
  outerBoundsMode: 'none', containLabel: false, show: false
}));

const xAxes = panels.map((p, i) => ({
  type: 'value', gridIndex: i, min: timeTicks.min, max: timeTicks.max, interval: timeTicks.step,
  axisLine: {show: true, onZero: false, lineStyle: {color: AXIS, width: 1}},
  axisTick: {show: true, length: 6, lineStyle: {color: AXIS, width: 1}},
  minorTick: {show: true, splitNumber: 5, length: 4, lineStyle: {color: AXIS, width: 1}},
  splitLine: {show: false}, minorSplitLine: {show: false},
  axisLabel: {show: true, fontSize: 14, fontFamily: FONT, color: '#222', margin: 8,
              formatter: v => String(v)}
}));

const yAxes = panels.map((p, i) => ({
  type: 'value', gridIndex: i, min: signalTicks.min, max: signalTicks.max, interval: signalTicks.step,
  axisLine: {show: true, onZero: false, lineStyle: {color: AXIS, width: 1}},
  axisTick: {show: true, length: 6, lineStyle: {color: AXIS, width: 1}},
  minorTick: {show: true, splitNumber: 5, length: 3, lineStyle: {color: AXIS, width: 1}},
  splitLine: {show: false}, minorSplitLine: {show: false},
  axisLabel: {show: true, fontSize: 14, fontFamily: FONT, color: '#222', margin: 11,
              formatter: v => (v === signalTicks.max ? '' : String(v))}
}));

const series = traces.map((d, i) => ({
  type: 'line', xAxisIndex: i, yAxisIndex: i, data: d,
  symbol: 'none', showSymbol: false, smooth: false, clip: true, silent: true,
  lineStyle: {color: TRACE, width: 1.25}, itemStyle: {color: TRACE},
  emphasis: {disabled: true}, z: 3
}));

const graphic = [];
// cover the axis overshoot right of the first box
graphic.push({type: 'rect', z: 99, silent: true, shape: {x: 1046, y: 0, width: 10, height: 381}, style: {fill: '#fff'}});
panels.forEach((p, i) => {
  graphic.push({type: 'rect', z: 100, silent: true,
    shape: {x: p.box[0], y: p.box[1], width: p.box[2], height: p.box[3]},
    style: {fill: 'none', stroke: BORDER, lineWidth: 2}});
  graphic.push({type: 'text', z: 101, silent: true, x: p.day[0], y: p.day[1],
    style: {text: dayNames[i], font: '24px ' + FONT, fill: '#111', align: 'center', verticalAlign: 'middle'}});
  graphic.push({type: 'text', z: 101, silent: true, x: p.pA[0], y: p.pA[1],
    style: {text: 'pA', font: '14px ' + FONT, fill: '#222', align: 'right', verticalAlign: 'middle'}});
  graphic.push({type: 'text', z: 98, silent: true, x: p.min[0], y: p.min[1],
    style: {text: 'min', font: '14px ' + FONT, fill: '#222', align: 'left', verticalAlign: 'middle'}});
  p.notes.forEach(n => {
    graphic.push({type: 'text', z: 101, silent: true, x: n[1], y: n[2],
      style: {text: n[0], font: '17px ' + FONT, fill: '#222', align: 'center', verticalAlign: 'middle'}});
  });
});

const chart = echarts.init(document.getElementById('c'), null, {renderer: 'canvas', width: 1049, height: 1499});
chart.setOption({
  animation: false,
  backgroundColor: '#fff',
  textStyle: {fontFamily: FONT},
  grid: grids, xAxis: xAxes, yAxis: yAxes, series: series, graphic: graphic
});
</script></body></html>
